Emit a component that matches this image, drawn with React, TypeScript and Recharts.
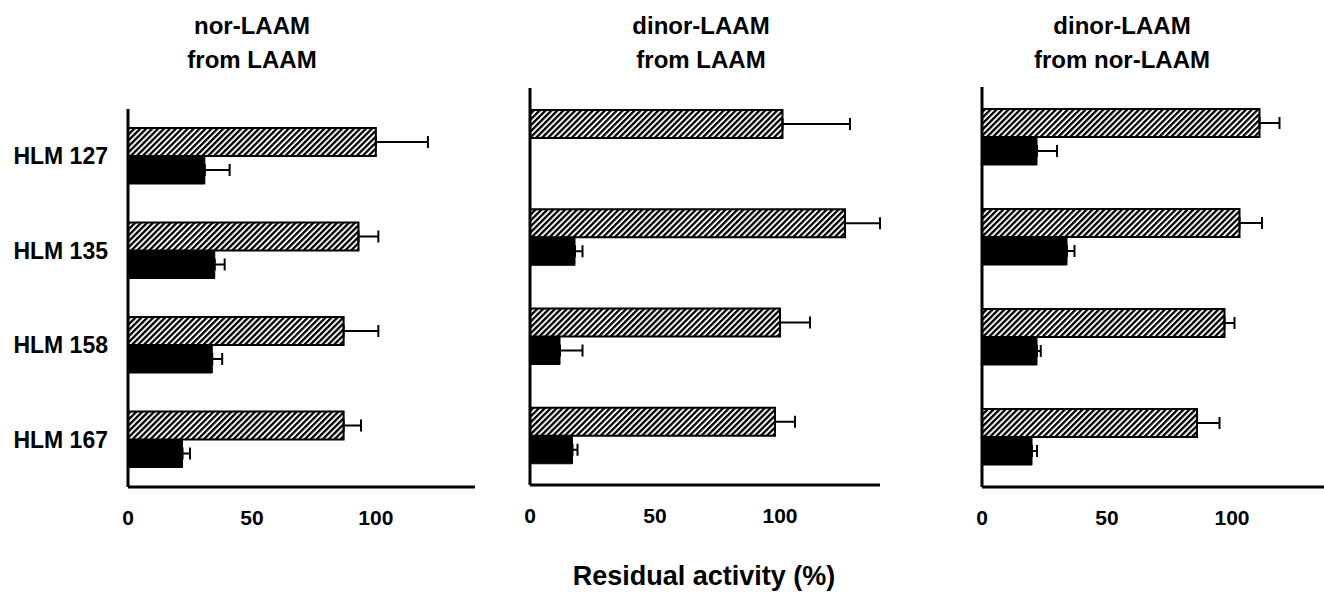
import { BarChart, Bar, XAxis, YAxis, ErrorBar } from "recharts";

const categories = ["HLM 127", "HLM 135", "HLM 158", "HLM 167"];
const titles = [
  ["nor-LAAM", "from LAAM"],
  ["dinor-LAAM", "from LAAM"],
  ["dinor-LAAM", "from nor-LAAM"],
];

// hatched = control, solid = with inhibitor
const norHatched = [100, 93, 87, 87];
const norHatchedErr = [21, 8, 14, 7];
const norSolid = [31, 35, 34, 22];
const norSolidErr = [10, 4, 4, 3];

const dinorHatched = [101, 126, 100, 98];
const dinorHatchedErr = [27, 14, 12, 8];
const dinorSolid = [0, 18, 12, 17];
const dinorSolidErr = [0, 3, 9, 2];

const dinor2Hatched = [111, 103, 97, 86];
const dinor2HatchedErr = [8, 9, 4, 9];
const dinor2Solid = [22, 34, 22, 20];
const dinor2SolidErr = [8, 3, 1.5, 2];

const xTicks = [0, 50, 100];
const xMax = 140;

const FONT = "'Liberation Sans', Arial, Helvetica, sans-serif";

function rows(h: number[], he: number[], s: number[], se: number[]) {
  return categories.map((name, i) => ({
    name,
    hatched: h[i],
    hatchedErr: [0, he[i]],
    solid: s[i],
    solidErr: [0, se[i]],
  }));
}

type PanelProps = {
  data: ReturnType<typeof rows>;
  chartLeft: number;
  width: number;
  axisX: number;
  plotRight: number;
  plotTop: number;
  plotBottom: number;
  labels: boolean;
};

function Panel({ data, chartLeft, width, axisX, plotRight, plotTop, plotBottom, labels }: PanelProps) {
  const xAxisH = 50;
  return (
    <div style={{ position: "absolute", left: chartLeft, top: 0 }}>
      <BarChart
        width={width}
        height={598}
        data={data}
        layout="vertical"
        barGap={0}
        barSize={28}
        margin={{ top: plotTop, right: chartLeft + width - plotRight, bottom: 598 - plotBottom - xAxisH, left: 0 }}
      >
        <XAxis
          type="number"
          domain={[0, xMax]}
          ticks={xTicks}
          allowDataOverflow
          height={xAxisH}
          axisLine={{ stroke: "#000", strokeWidth: 3 }}
          tickLine={false}
          tickSize={0}
          tickMargin={23}
          tick={{ fill: "#000", fontSize: 21, fontWeight: 700, fontFamily: FONT }}
        />
        <YAxis
          type="category"
          dataKey="name"
          width={axisX - chartLeft}
          axisLine={{ stroke: "#000", strokeWidth: 3 }}
          tickLine={false}
          tickSize={0}
          tickMargin={20}
          tick={labels ? { fill: "#000", fontSize: 23, fontWeight: 700, fontFamily: FONT } : false}
        />
        <Bar dataKey="hatched" fill="url(#hatch)" stroke="#000" strokeWidth={2} isAnimationActive={false}>
          <ErrorBar dataKey="hatchedErr" direction="x" width={6} stroke="#000" strokeWidth={2} />
        </Bar>
        <Bar dataKey="solid" fill="#000" stroke="#000" strokeWidth={1} isAnimationActive={false}>
          <ErrorBar dataKey="solidErr" direction="x" width={6} stroke="#000" strokeWidth={2} />
        </Bar>
      </BarChart>
    </div>
  );
}

export default function App() {
  const titleCenters = [252, 701, 1122];
  return (
    <div
      style={{
        position: "absolute",
        left: 0,
        top: 0,
        width: 1324,
        height: 598,
        overflow: "hidden",
        background: "#fff",
        fontFamily: FONT,
      }}
    >
      <svg width={0} height={0} style={{ position: "absolute" }}>
        <defs>
          <pattern id="hatch" patternUnits="userSpaceOnUse" width={4.2} height={4.2} patternTransform="rotate(45)">
            <rect x={0} y={0} width={4.2} height={4.2} fill="#fff" />
            <rect x={0} y={0} width={2.3} height={4.2} fill="#000" />
          </pattern>
        </defs>
      </svg>

      {titles.map((t, i) => (
        <div
          key={i}
          style={{
            position: "absolute",
            left: titleCenters[i] - 150,
            top: 9,
            width: 300,
            textAlign: "center",
            fontSize: 24,
            fontWeight: 700,
            lineHeight: "34px",
          }}
        >
          {t[0]}
          <br />
          {t[1]}
        </div>
      ))}

      <Panel
        data={rows(norHatched, norHatchedErr, norSolid, norSolidErr)}
        chartLeft={0}
        width={490}
        axisX={128}
        plotRight={475}
        plotTop={109}
        plotBottom={487}
        labels
      />
      <Panel
        data={rows(dinorHatched, dinorHatchedErr, dinorSolid, dinorSolidErr)}
        chartLeft={500}
        width={400}
        axisX={530}
        plotRight={880}
        plotTop={88}
        plotBottom={485}
        labels={false}
      />
      <Panel
        data={rows(dinor2Hatched, dinor2HatchedErr, dinor2Solid, dinor2SolidErr)}
        chartLeft={950}
        width={400}
        axisX={982}
        plotRight={1332}
        plotTop={87}
        plotBottom={487}
        labels={false}
      />

      <div
        style={{
          position: "absolute",
          left: 704 - 250,
          top: 561,
          width: 500,
          textAlign: "center",
          fontSize: 27,
          fontWeight: 700,
        }}
      >
        Residual activity (%)
      </div>
    </div>
  );
}
